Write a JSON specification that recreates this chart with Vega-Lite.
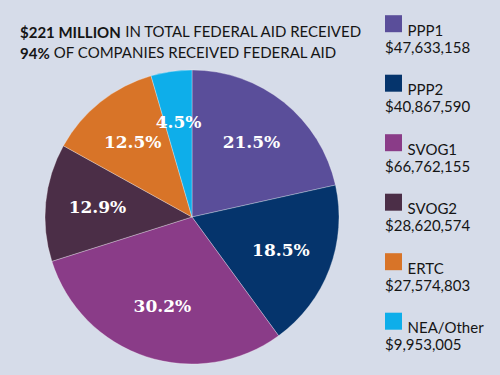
{
  "$schema": "https://vega.github.io/schema/vega-lite/v6.json",
  "width": 294,
  "height": 294,
  "autosize": {"type": "none"},
  "padding": {"left": 45, "top": 70, "right": 161, "bottom": 11},
  "background": "#d6dce9",
  "config": {"view": {"stroke": null}},
  "title": {
    "text": ["$221 MILLION", "94%"],
    "subtitle": ["\u200b\u2003\u2003\u2003\u2003\u2003\u2003\u2003\u2003\u2002\u00a0\u00a0IN TOTAL FEDERAL AID RECEIVED", "\u200b\u2003\u2003\u2002\u00a0OF COMPANIES RECEIVED FEDERAL AID"],
    "anchor": "start",
    "frame": "group",
    "dx": -25,
    "offset": -48.5,
    "baseline": "top",
    "font": "Lato",
    "fontSize": 15,
    "fontWeight": "bold",
    "color": "#151515",
    "lineHeight": 21.7,
    "subtitleFont": "Lato",
    "subtitleFontSize": 15,
    "subtitleFontWeight": "normal",
    "subtitleColor": "#151515",
    "subtitleLineHeight": 21.7,
    "subtitlePadding": -37.9
  },
  "data": {
    "values": [
      {"program": "PPP1", "amount": 47633158, "pct": "21.5%", "order": 1},
      {"program": "PPP2", "amount": 40867590, "pct": "18.5%", "order": 2},
      {"program": "SVOG1", "amount": 66762155, "pct": "30.2%", "order": 3},
      {"program": "SVOG2", "amount": 28620574, "pct": "12.9%", "order": 4},
      {"program": "ERTC", "amount": 27574803, "pct": "12.5%", "order": 5},
      {"program": "NEA/Other", "amount": 9953005, "pct": "4.5%", "order": 6}
    ]
  },
  "encoding": {
    "theta": {"field": "amount", "type": "quantitative", "stack": true},
    "order": {"field": "order", "type": "quantitative"}
  },
  "layer": [
    {
      "mark": {"type": "arc", "outerRadius": 147, "stroke": "#ffffff", "strokeWidth": 0.6, "strokeOpacity": 0.5},
      "encoding": {
        "color": {
          "field": "program",
          "type": "nominal",
          "scale": {
            "domain": ["PPP1", "PPP2", "SVOG1", "SVOG2", "ERTC", "NEA/Other"],
            "range": ["#5a4e9a", "#05346c", "#8a3c88", "#4b2e47", "#d87428", "#0eaeea"]
          },
          "legend": {
            "orient": "none",
            "legendX": 340,
            "legendY": -54.8,
            "title": null,
            "padding": 0,
            "symbolType": "square",
            "symbolSize": 289,
            "symbolStrokeWidth": 0,
            "symbolOpacity": 1,
            "labelFont": "Lato",
            "labelFontSize": 15,
            "labelColor": "#151515",
            "labelBaseline": "top",
            "labelLineHeight": 19.5,
            "labelOffset": -17,
            "labelLimit": 200,
            "rowPadding": 18.5,
            "labelExpr": "['\u200b\u2003\u2002\u00a0' + datum.label, {'PPP1': '$47,633,158', 'PPP2': '$40,867,590', 'SVOG1': '$66,762,155', 'SVOG2': '$28,620,574', 'ERTC': '$27,574,803', 'NEA/Other': '$9,953,005'}[datum.label]]"
          }
        }
      }
    },
    {
      "mark": {"type": "text", "radius": 95, "font": "DejaVu Serif", "fontWeight": "bold", "fontSize": 17, "fill": "#ffffff"},
      "encoding": {
        "detail": {"field": "program", "type": "nominal"},
        "text": {"field": "pct", "type": "nominal"}
      }
    }
  ]
}
